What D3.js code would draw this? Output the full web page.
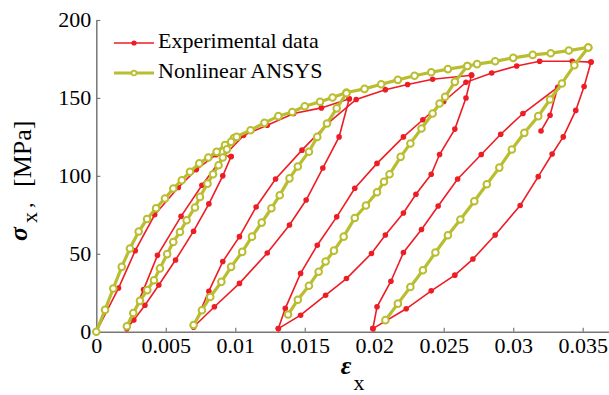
<!DOCTYPE html>
<html>
<head>
<meta charset="utf-8">
<script src="https://cdn.jsdelivr.net/npm/d3@7"></script>
<style>
  body { margin: 0; background: #fff; }
  svg text { font-family: "Liberation Serif", "Times New Roman", Tinos, "DejaVu Serif", serif; }
</style>
</head>
<body>
<div id="chart"></div>
<script>
// tick values
const xTicks = [0, 0.005, 0.01, 0.015, 0.02, 0.025, 0.03, 0.035];
const yTicks = [0, 50, 100, 150, 200];
const seriesNames = ["Experimental data", "Nonlinear ANSYS"];

// experimental data, branch by branch  [strain, stress MPa]
const expLoad1 = [[0,0],[0.0016,28],[0.0028,52],[0.0042,75],[0.0059,92.5],[0.0072,104],[0.0086,113.5],[0.0097,112.4]];
const expUnload1 = [[0.0097,112.4],[0.0091,100],[0.0081,82],[0.0070,64.5],[0.0057,46],[0.0045,30],[0.0035,17],[0.0027,7.5],[0.0022,2]];
const expReload1 = [[0.0022,2],[0.0034,27],[0.0044,49],[0.0061,74],[0.0076,94],[0.0091,112],[0.0106,126],[0.0123,132.5],[0.0142,140],[0.0162,143.6],[0.0182,149.5]];
const expUnload2 = [[0.0182,149.5],[0.01747,125],[0.0163,105],[0.0151,84.5],[0.0139,68.5],[0.0123,50.5],[0.0103,31],[0.0085,16],[0.0070,3]];
const expReload2 = [[0.0070,3],[0.0081,26],[0.0091,45],[0.0103,61],[0.0115,80],[0.0129,98],[0.0148,116.5],[0.0167,134],[0.0187,149],[0.0208,155.3],[0.0224,158.6],[0.0242,162],[0.0270,164.6]];
const expUnload3 = [[0.0270,164.6],[0.0266,150],[0.0258,130],[0.0247,113.7],[0.0241,101],[0.0230,88.2],[0.0221,76.2],[0.0208,62],[0.0198,50.2],[0.0180,34.1],[0.0165,23.4],[0.0147,10.6],[0.0131,2]];
const expReload3 = [[0.0131,2],[0.0136,15],[0.0147,37.4],[0.0159,55.5],[0.0173,73.7],[0.0186,92],[0.0202,108],[0.0221,125],[0.0235,136],[0.0250,147.7],[0.0266,160],[0.02845,166],[0.03025,170.5],[0.0319,173.5],[0.03425,173.5],[0.0356,173]];
const expUnload4 = [[0.0356,173],[0.0351,157.3],[0.0345,142],[0.0336,125],[0.0328,114],[0.0318,99.5],[0.0305,81],[0.0287,62],[0.0271,46.6],[0.0258,36.3],[0.0241,26.2],[0.0223,14.7],[0.0199,2]];
const expReload4 = [[0.0199,2],[0.0202,16],[0.0212,32.4],[0.0221,50.8],[0.0234,65.6],[0.0246,80.7],[0.0260,98],[0.0277,113.7],[0.0291,126.7],[0.0307,140],[0.0332,156.8],[0.03265,138.9],[0.0320,128.8]];

// ANSYS result
const ansysEnvelope = [[0,0],[0.00063,14],[0.00122,27.7],[0.00183,41.6],[0.00242,53.4],[0.00305,64.3],[0.00365,72.3],[0.0043,79.2],[0.00494,85.5],[0.00554,91.9],[0.00615,97.2],[0.00674,102.6],[0.00741,108],[0.00806,111.8],[0.00866,115.4],[0.00926,119.7],[0.0099,124.3],[0.0111,129.3],[0.0121,134],[0.0131,138.3],[0.0141,141],[0.0150,144.7],[0.0161,147.5],[0.0170,150.3],[0.0180,153.5],[0.0193,155.8],[0.0205,158.8],[0.0217,161.6],[0.0229,164.2],[0.0241,166.5],[0.0253,168.5],[0.0267,170.5],[0.0274,171.7],[0.0287,173.5],[0.0300,175.7],[0.0314,177.6],[0.0327,178.7],[0.0340,180.4],[0.0354,182.4]];
const ansysLoop1 = [[0.0022,3.5],[0.00266,12],[0.00314,19.8],[0.00367,26.7],[0.00415,33],[0.00458,40.6],[0.0051,49.8],[0.00554,57.6],[0.00602,64],[0.0065,71.5],[0.0071,79.7],[0.00746,86.5],[0.0080,95],[0.0084,101],[0.0088,106.8],[0.0091,111.8],[0.0094,117],[0.0097,121.8],[0.0101,125]];
const ansysLoop2 = [[0.0070,4.3],[0.0076,13.8],[0.0082,22.3],[0.0090,32],[0.0097,41.6],[0.0105,51.2],[0.0112,61],[0.0119,70],[0.0126,79.2],[0.0132,87.6],[0.0139,98.4],[0.0145,106],[0.0153,115.5],[0.0159,125],[0.0166,133.6],[0.0173,143.3],[0.0180,153]];
const ansysLoop3 = [[0.0138,11],[0.0145,20.5],[0.0153,29.5],[0.0160,38.5],[0.0165,45],[0.0171,52],[0.0178,61],[0.0186,73],[0.0194,81],[0.0202,89.5],[0.0207,96.2],[0.0211,101],[0.0219,112.2],[0.0226,120.8],[0.0234,130.4],[0.0242,140],[0.0247,146.4],[0.0251,150.7],[0.0258,160.3],[0.0267,170.5]];
const ansysLoop4 = [[0.0208,7.4],[0.0217,18],[0.0226,28.7],[0.0235,39.4],[0.0244,50.8],[0.0253,61.9],[0.0262,72],[0.0272,83.7],[0.0281,94.6],[0.0290,105.3],[0.0299,116.9],[0.0308,127.6],[0.0318,138.3],[0.03265,149],[0.0335,159.3],[0.0344,171],[0.0354,182.4]];

const expBranches = [expLoad1, expUnload1, expReload1, expUnload2, expReload2, expUnload3, expReload3, expUnload4, expReload4];
const ansysBranches = [ansysEnvelope, ansysLoop1, ansysLoop2, ansysLoop3, ansysLoop4];

const red = "#ee1c25";
const olive = "#b9be30";
const axisColor = "#777";
const serif = "'Liberation Serif', 'Times New Roman', Tinos, 'DejaVu Serif', serif";

const svg = d3.select("#chart").append("svg")
  .attr("width", 609)
  .attr("height", 395);

const x = d3.scaleLinear().domain([0, 0.037]).range([96.3, 610.5]);
const y = d3.scaleLinear().domain([0, 200]).range([331.7, 20]);

// axes
const xAxis = svg.append("g")
  .attr("transform", `translate(0,${y(0)})`)
  .call(d3.axisBottom(x).tickValues(xTicks).tickSizeInner(-4).tickSizeOuter(0)
    .tickFormat(d => String(+d.toFixed(3))));
const yAxis = svg.append("g")
  .attr("transform", `translate(${x(0)},0)`)
  .call(d3.axisLeft(y).tickValues(yTicks).tickSizeInner(-4).tickSizeOuter(0));

[xAxis, yAxis].forEach(g => {
  g.attr("font-family", null);
  g.select(".domain").attr("stroke", axisColor).attr("stroke-width", 1.5);
  g.selectAll(".tick line").attr("stroke", axisColor).attr("stroke-width", 1.2);
  g.selectAll("text").attr("fill", "#000")
    .style("font-family", serif).style("font-size", "22px");
});
xAxis.selectAll("text").attr("y", 21.5).attr("dy", 0);
yAxis.selectAll("text").attr("x", -5).attr("dy", 0).attr("y", 6.5);

const line = d3.line().x(d => x(d[0])).y(d => y(d[1]));

// experimental (red)
const expG = svg.append("g");
expBranches.forEach(b => {
  expG.append("path").datum(b)
    .attr("d", line).attr("fill", "none")
    .attr("stroke", red).attr("stroke-width", 1.6);
});
expBranches.forEach(b => {
  expG.selectAll(null).data(b).enter().append("circle")
    .attr("cx", d => x(d[0])).attr("cy", d => y(d[1]))
    .attr("r", 2.8).attr("fill", red);
});

// ANSYS (olive, hollow circles)
const ansG = svg.append("g");
ansysBranches.forEach(b => {
  ansG.append("path").datum(b)
    .attr("d", line).attr("fill", "none")
    .attr("stroke", olive).attr("stroke-width", 3.2);
});
ansysBranches.forEach(b => {
  ansG.selectAll(null).data(b).enter().append("circle")
    .attr("cx", d => x(d[0])).attr("cy", d => y(d[1]))
    .attr("r", 3.3).attr("fill", "#fff")
    .attr("stroke", olive).attr("stroke-width", 2);
});

// legend
const legend = svg.append("g");
const legendRows = [
  { name: seriesNames[0], y: 43, color: red, width: 1.6 },
  { name: seriesNames[1], y: 73, color: olive, width: 3.2 }
];
legendRows.forEach((r, i) => {
  legend.append("line").attr("x1", 114).attr("x2", 154)
    .attr("y1", r.y).attr("y2", r.y)
    .attr("stroke", r.color).attr("stroke-width", r.width);
  if (i === 0) {
    legend.append("circle").attr("cx", 134).attr("cy", r.y).attr("r", 2.6).attr("fill", red);
  } else {
    legend.append("circle").attr("cx", 134).attr("cy", r.y).attr("r", 2.4)
      .attr("fill", "#fff").attr("stroke", olive).attr("stroke-width", 1.6);
  }
  legend.append("text").attr("x", 158).attr("y", r.y + 5)
    .style("font-family", serif).style("font-size", "22px").attr("fill", "#000").text(r.name);
});

// x axis label
svg.append("text").attr("x", 346).attr("y", 374).attr("text-anchor", "middle")
  .style("font-family", serif).style("font-size", "26px")
  .style("font-weight", "bold").style("font-style", "italic")
  .text("ε");
svg.append("text").attr("x", 359).attr("y", 390).attr("text-anchor", "middle")
  .style("font-family", serif).style("font-size", "22px").text("x");

// y axis label (rotated)
svg.append("text").attr("transform", "translate(27,241) rotate(-90)")
  .style("font-family", serif).style("font-size", "26px")
  .style("font-weight", "bold").style("font-style", "italic")
  .text("σ");
svg.append("text").attr("transform", "translate(37,223) rotate(-90)")
  .style("font-family", serif).style("font-size", "22px").text("x");
svg.append("text").attr("transform", "translate(32,208) rotate(-90)")
  .style("font-family", serif).style("font-size", "22px").text(",");
svg.append("text").attr("transform", "translate(31,187) rotate(-90)")
  .style("font-family", serif).style("font-size", "26px").text("[MPa]");
</script>
</body>
</html>
